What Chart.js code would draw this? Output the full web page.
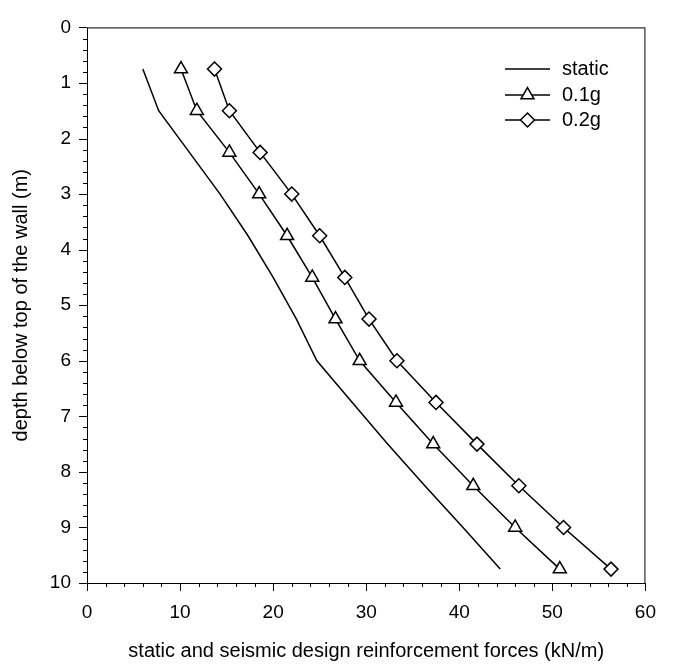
<!DOCTYPE html>
<html>
<head>
<meta charset="utf-8">
<script src="https://cdn.jsdelivr.net/npm/chart.js@4/dist/chart.umd.min.js"></script>
<style>
  html, body { margin: 0; padding: 0; background: #fff; }
  canvas { display: block; }
</style>
</head>
<body>
<canvas id="forceChart" width="674" height="667"></canvas>
<script>
// depth below top of wall (m), one value every 0.75 m
const depths = [0.75, 1.5, 2.25, 3.0, 3.75, 4.5, 5.25, 6.0, 6.75, 7.5, 8.25, 9.0, 9.75];

// reinforcement forces (kN/m)
const staticForces = [6.0, 7.7, 11.0, 14.3, 17.3, 20.0, 22.5, 24.7, 28.5, 32.3, 36.3, 40.4, 44.4];
const forces01g = [10.1, 11.8, 15.3, 18.5, 21.5, 24.2, 26.7, 29.3, 33.2, 37.2, 41.5, 46.0, 50.8];
const forces02g = [13.7, 15.3, 18.6, 22.0, 25.0, 27.7, 30.3, 33.3, 37.5, 41.9, 46.4, 51.2, 56.3];

const seriesLabels = ['static', '0.1g', '0.2g'];

const xTicks = [0, 10, 20, 30, 40, 50, 60];
const yTicks = [0, 1, 2, 3, 4, 5, 6, 7, 8, 9, 10];

const FONT = 'Arial, "Liberation Sans", sans-serif';

function toPoints(values) {
    return values.map((v, i) => ({ x: v, y: depths[i] }));
}

// frame, ticks (major + minor) and the legend box inside the plot
const framePlugin = {
    id: 'frame',
    afterDraw(chart) {
        const ctx = chart.ctx;
        const area = chart.chartArea;
        const xs = chart.scales.x;
        const ys = chart.scales.y;

        ctx.save();
        ctx.strokeStyle = '#000';
        ctx.lineWidth = 1;
        ctx.strokeRect(area.left + 0.5, area.top + 0.5, area.right - area.left - 1, area.bottom - area.top);

        // x ticks
        ctx.beginPath();
        for (let v = 0; v <= 60.001; v += 2) {
            const px = Math.round(xs.getPixelForValue(v)) + 0.5;
            const len = (Math.round(v) % 10 === 0) ? 8 : 4;
            ctx.moveTo(px, area.bottom);
            ctx.lineTo(px, area.bottom + len);
        }
        // y ticks
        for (let i = 0; i <= 50; i++) {
            const v = i * 0.2;
            const py = Math.round(ys.getPixelForValue(v)) + 0.5;
            const len = (i % 5 === 0) ? 8 : 4;
            ctx.moveTo(area.left, py);
            ctx.lineTo(area.left - len, py);
        }
        ctx.stroke();

        // legend
        const lx0 = 505, lx1 = 550, tx = 562;
        const rows = [69, 95, 120];
        ctx.font = '20px ' + FONT;
        ctx.textBaseline = 'middle';
        ctx.textAlign = 'left';
        ctx.fillStyle = '#000';
        chart.data.datasets.forEach((ds, i) => {
            const y = rows[i];
            ctx.beginPath();
            ctx.lineWidth = 1.5;
            ctx.moveTo(lx0, y);
            ctx.lineTo(lx1, y);
            ctx.stroke();
            if (ds.pointRadius > 0) {
                ctx.fillStyle = '#fff';
                ctx.lineWidth = 1.5;
                Chart.helpers.drawPoint(ctx, {
                    pointStyle: ds.pointStyle,
                    radius: ds.pointRadius,
                    borderWidth: 1.5
                }, (lx0 + lx1) / 2, y);
                ctx.fillStyle = '#000';
            }
            ctx.fillText(ds.label, tx, y);
        });
        ctx.restore();
    }
};

const ctx = document.getElementById('forceChart').getContext('2d');
new Chart(ctx, {
    type: 'scatter',
    data: {
        datasets: [
            {
                label: seriesLabels[0],
                data: toPoints(staticForces),
                showLine: true,
                borderColor: '#000',
                borderWidth: 1.5,
                pointRadius: 0,
                pointStyle: false
            },
            {
                label: seriesLabels[1],
                data: toPoints(forces01g),
                showLine: true,
                borderColor: '#000',
                borderWidth: 1.5,
                pointStyle: 'triangle',
                pointRadius: 7.5,
                pointBackgroundColor: '#fff',
                pointBorderColor: '#000',
                pointBorderWidth: 1.5
            },
            {
                label: seriesLabels[2],
                data: toPoints(forces02g),
                showLine: true,
                borderColor: '#000',
                borderWidth: 1.5,
                pointStyle: 'rectRot',
                pointRadius: 7,
                pointBackgroundColor: '#fff',
                pointBorderColor: '#000',
                pointBorderWidth: 1.5
            }
        ]
    },
    options: {
        responsive: false,
        animation: false,
        devicePixelRatio: 1,
        layout: { padding: { top: 12, right: 12, left: 0, bottom: 0 } },
        plugins: {
            legend: { display: false },
            tooltip: { enabled: false }
        },
        scales: {
            x: {
                type: 'linear',
                min: 0,
                max: 60,
                afterFit(scale) { scale.height = 84; },
                afterBuildTicks(scale) { scale.ticks = xTicks.map(v => ({ value: v })); },
                grid: { display: false, drawTicks: false },
                border: { display: false },
                ticks: {
                    color: '#000',
                    padding: 18,
                    maxRotation: 0,
                    font: { family: FONT, size: 19 }
                },
                title: {
                    display: true,
                    text: 'static and seismic design reinforcement forces (kN/m)',
                    color: '#000',
                    font: { family: FONT, size: 20 },
                    padding: { top: 0, bottom: 4 }
                }
            },
            y: {
                type: 'linear',
                reverse: true,
                min: 0,
                max: 10,
                afterFit(scale) { scale.width = 87; },
                afterBuildTicks(scale) { scale.ticks = yTicks.map(v => ({ value: v })); },
                grid: { display: false, drawTicks: false },
                border: { display: false },
                ticks: {
                    color: '#000',
                    padding: 16,
                    font: { family: FONT, size: 19 }
                },
                title: {
                    display: true,
                    text: 'depth below top of the wall (m)',
                    color: '#000',
                    font: { family: FONT, size: 20 },
                    padding: { top: 9, bottom: 0 }
                }
            }
        }
    },
    plugins: [framePlugin]
});
</script>
</body>
</html>
